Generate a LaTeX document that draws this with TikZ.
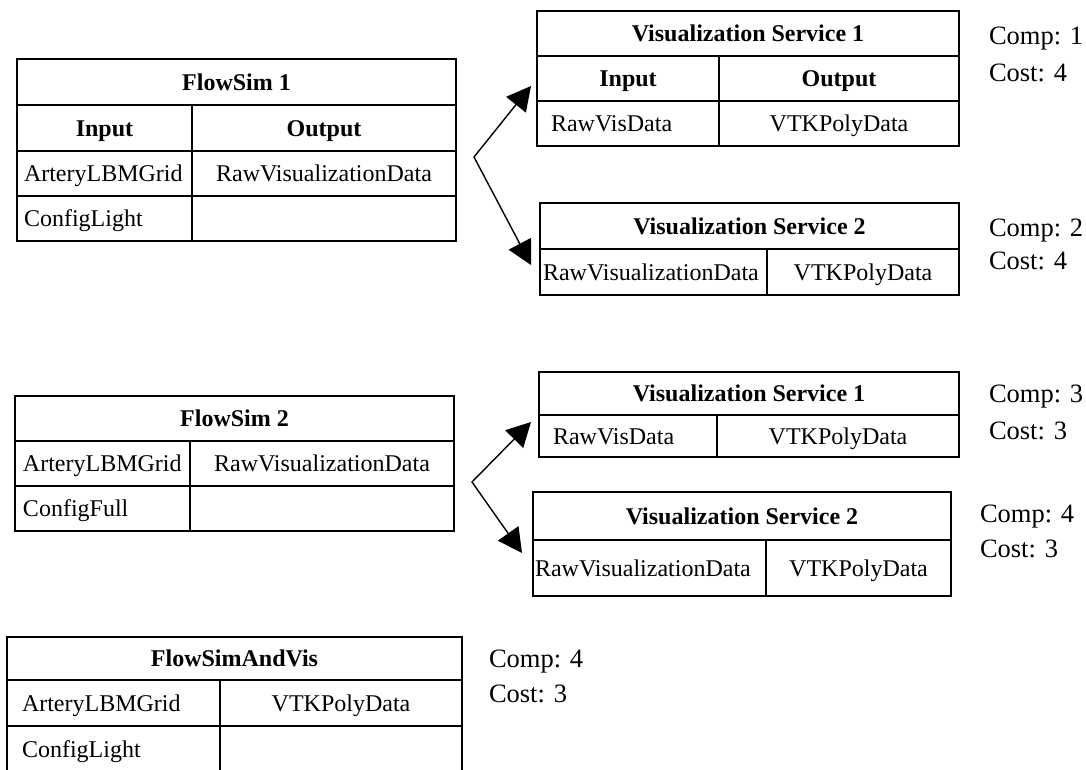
\documentclass[tikz,border=0pt]{standalone}
\usepackage{fontspec}
\setmainfont{Liberation Serif}
\usetikzlibrary{arrows.meta}
\tikzset{
  cellbox/.style={draw, line width=1.8pt, inner sep=0pt, outer sep=0pt},
  txt/.style={inner sep=0pt, outer sep=0pt, font=\fontsize{24}{28}\selectfont},
  head/.style={txt, font=\fontsize{24}{28}\selectfont\bfseries},
  note/.style={inner sep=0pt, outer sep=0pt, anchor=base west, font=\fontsize{26.5}{30}\selectfont},
  fork/.style={{Triangle[length=24pt,width=25pt]}-{Triangle[length=24pt,width=25pt]}, line width=1.4pt},
}
% one table cell: name, left, top, right, bottom
\newcommand\tcell[5]{\node[cellbox, minimum width={(#4-#2)*1pt}, minimum height={(#5-#3)*1pt}] (#1) at ({(#2+#4)/2},{(#3+#5)/2}) {};}
% centred text in a cell: [style] name, cell, text
\newcommand\ctxt[4][txt]{\node[#1, anchor=base] (#2) at ([yshift=-8pt]#3.center) {#4};}
% left-aligned text in a cell: [style] name, cell, padding, text
\newcommand\ltxt[5][txt]{\node[#1, anchor=base west] (#2) at ([xshift=#4pt,yshift=-8pt]#3.west) {#5};}
\begin{document}
\begin{tikzpicture}[x=1pt, y=-1pt]
\useasboundingbox (0,0) rectangle (1086,769);
\clip (0,0) rectangle (1086,769);

% ---------- FlowSim 1 ----------
\tcell{fs1}{17}{59}{456}{105}
\tcell{fs1-h1}{17}{105}{192}{151}
\tcell{fs1-h2}{192}{105}{456}{151}
\tcell{fs1-a1}{17}{151}{192}{196}
\tcell{fs1-a2}{192}{151}{456}{196}
\tcell{fs1-b1}{17}{196}{192}{241}
\tcell{fs1-b2}{192}{196}{456}{241}
\ctxt[head]{fs1-t}{fs1}{FlowSim 1}
\ctxt[head]{fs1-h1t}{fs1-h1}{Input}
\ctxt[head]{fs1-h2t}{fs1-h2}{Output}
\ltxt{fs1-a1t}{fs1-a1}{7}{ArteryLBMGrid}
\ctxt{fs1-a2t}{fs1-a2}{RawVisualizationData}
\ltxt{fs1-b1t}{fs1-b1}{7}{ConfigLight}

% ---------- Visualization Service 1 (top) ----------
\tcell{vs1}{537}{11}{959}{56}
\tcell{vs1-h1}{537}{56}{719}{101}
\tcell{vs1-h2}{719}{56}{959}{101}
\tcell{vs1-a1}{537}{101}{719}{146}
\tcell{vs1-a2}{719}{101}{959}{146}
\ctxt[head]{vs1-t}{vs1}{Visualization Service 1}
\ctxt[head]{vs1-h1t}{vs1-h1}{Input}
\ctxt[head]{vs1-h2t}{vs1-h2}{Output}
\ltxt{vs1-a1t}{vs1-a1}{14}{RawVisData}
\ctxt{vs1-a2t}{vs1-a2}{VTKPolyData}
\node[note] (vs1-comp) at (989,44) {Comp: 1};
\node[note] (vs1-cost) at (989,81) {Cost: 4};

% ---------- Visualization Service 2 (top) ----------
\tcell{vs2}{540}{203}{959}{249}
\tcell{vs2-a1}{540}{249}{767}{295}
\tcell{vs2-a2}{767}{249}{959}{295}
\ctxt[head]{vs2-t}{vs2}{Visualization Service 2}
\ltxt{vs2-a1t}{vs2-a1}{3}{RawVisualizationData}
\ctxt{vs2-a2t}{vs2-a2}{VTKPolyData}
\node[note] (vs2-comp) at (989,236) {Comp: 2};
\node[note] (vs2-cost) at (989,269) {Cost: 4};

% ---------- FlowSim 2 ----------
\tcell{fs2}{15}{396}{454}{441}
\tcell{fs2-a1}{15}{441}{190}{486}
\tcell{fs2-a2}{190}{441}{454}{486}
\tcell{fs2-b1}{15}{486}{190}{531}
\tcell{fs2-b2}{190}{486}{454}{531}
\ctxt[head]{fs2-t}{fs2}{FlowSim 2}
\ltxt{fs2-a1t}{fs2-a1}{8}{ArteryLBMGrid}
\ctxt{fs2-a2t}{fs2-a2}{RawVisualizationData}
\ltxt{fs2-b1t}{fs2-b1}{8}{ConfigFull}

% ---------- Visualization Service 1 (middle) ----------
\tcell{vs3}{539}{372}{959}{415}
\tcell{vs3-a1}{539}{415}{717}{457}
\tcell{vs3-a2}{717}{415}{959}{457}
\ctxt[head]{vs3-t}{vs3}{Visualization Service 1}
\ltxt{vs3-a1t}{vs3-a1}{14}{RawVisData}
\ctxt{vs3-a2t}{vs3-a2}{VTKPolyData}
\node[note] (vs3-comp) at (989,402) {Comp: 3};
\node[note] (vs3-cost) at (989,439) {Cost: 3};

% ---------- Visualization Service 2 (middle) ----------
\tcell{vs4}{533}{492}{951}{540}
\tcell{vs4-a1}{533}{540}{766}{596}
\tcell{vs4-a2}{766}{540}{951}{596}
\ctxt[head]{vs4-t}{vs4}{Visualization Service 2}
\ltxt{vs4-a1t}{vs4-a1}{2}{RawVisualizationData}
\ctxt{vs4-a2t}{vs4-a2}{VTKPolyData}
\node[note] (vs4-comp) at (980,522) {Comp: 4};
\node[note] (vs4-cost) at (980,557) {Cost: 3};

% ---------- FlowSimAndVis ----------
\tcell{fsv}{7}{637}{462}{680}
\tcell{fsv-a1}{7}{680}{220}{726}
\tcell{fsv-a2}{220}{680}{462}{726}
\tcell{fsv-b1}{7}{726}{220}{774}
\tcell{fsv-b2}{220}{726}{462}{774}
\ctxt[head]{fsv-t}{fsv}{FlowSimAndVis}
\ltxt{fsv-a1t}{fsv-a1}{15}{ArteryLBMGrid}
\ctxt{fsv-a2t}{fsv-a2}{VTKPolyData}
\node[txt, anchor=base west] (fsv-b1t) at ([xshift=15pt]fsv-b1.west |- 0,757) {ConfigLight};
\node[note] (fsv-comp) at (489,667) {Comp: 4};
\node[note] (fsv-cost) at (489,702) {Cost: 3};

% ---------- forks towards the visualization services ----------
\coordinate (fork1) at (474,157);
\coordinate (tip1a) at (531,86);
\coordinate (tip1b) at (531,265);
\draw[fork] (tip1a) -- (fork1) -- (tip1b);

\coordinate (fork2) at (472,482);
\coordinate (tip2a) at (531,422);
\coordinate (tip2b) at (522,553);
\draw[fork] (tip2a) -- (fork2) -- (tip2b);
\end{tikzpicture}
\end{document}
